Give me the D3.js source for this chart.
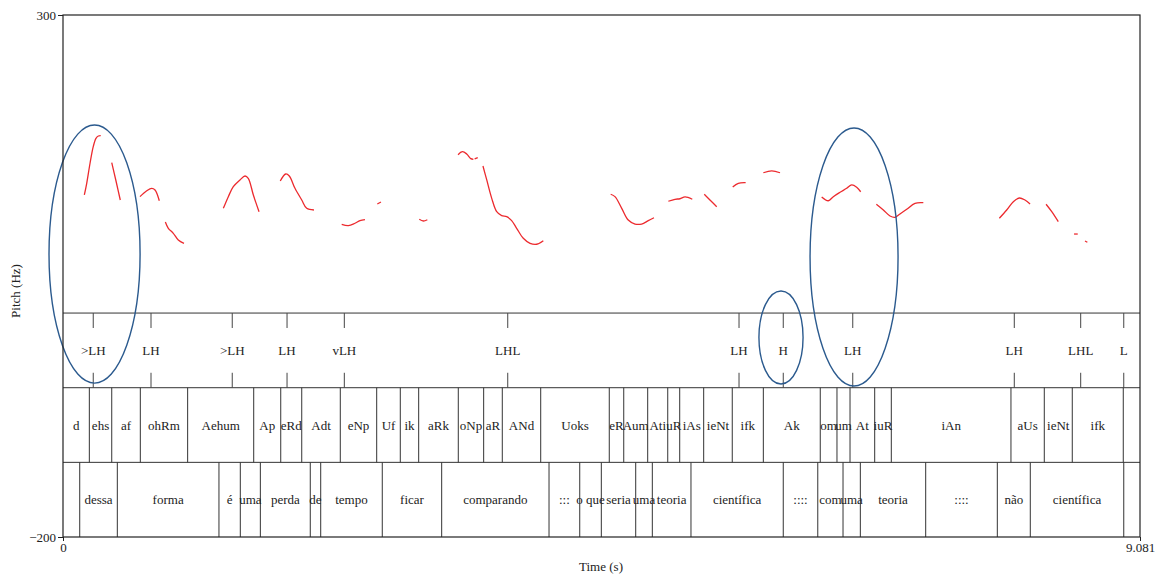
<!DOCTYPE html>
<html lang="en">
  <head>
    <meta charset="UTF-8" />
    <title>Pitch and tiers</title>
    <style>
      body { margin: 0; background: #fff; }
      svg text { font-family: "Liberation Serif", "Times New Roman", serif; font-size: 13px; fill: #222; }
    </style>
  </head>

  <body>
    <div id="chart"></div>

    <script src="https://cdn.jsdelivr.net/npm/d3@7"></script>
    <script>

      // time axis and y axis ends
      var tMin = 0, tMax = 9.081;
      var yMin = -200, yMax = 300;

      // pitch contour pieces, [time (s), Hz]
      var pitchSegments = [
        [[0.180,127.6],[0.200,138.8],[0.228,158.0],[0.255,173.9],[0.278,181.9],[0.298,184.1],[0.318,184.4]],
        [[0.411,158.5],[0.447,141.0],[0.483,122.8]],
        [[0.649,126.0],[0.706,131.7],[0.748,134.0],[0.776,132.4],[0.812,122.1]],
        [[0.863,101.7],[0.888,95.7],[0.930,90.9],[0.972,84.5],[1.020,81.3]],
        [[1.352,114.8],[1.394,126.0],[1.436,135.5],[1.492,142.0],[1.535,145.8],[1.562,143.6],[1.605,127.6],[1.653,111.6]],
        [[1.832,141.0],[1.878,147.7],[1.908,145.8],[1.956,134.0],[2.013,122.8],[2.055,114.8],[2.116,113.2]],
        [[2.350,99.5],[2.406,98.2],[2.462,100.5],[2.504,103.0],[2.546,103.9]],
        [[2.650,119.0],[2.681,120.9]],
        [[3.004,104.3],[3.038,102.7],[3.072,103.9]],
        [[3.331,166.2],[3.367,169.1],[3.404,166.9],[3.438,162.4],[3.460,161.8]],
        [[3.471,162.1],[3.497,163.3]],
        [[3.541,155.4],[3.573,142.0],[3.615,124.4],[3.657,111.6],[3.699,107.8],[3.741,106.8],[3.783,103.0],[3.825,95.7],[3.881,86.1],[3.938,81.3],[3.994,80.4],[4.050,83.8]],
        [[4.618,128.3],[4.654,126.0],[4.711,114.8],[4.766,103.6],[4.823,99.8],[4.879,99.8],[4.935,103.0],[4.983,105.8]],
        [[5.104,121.6],[5.160,123.5],[5.202,124.0],[5.245,125.7],[5.306,123.5]],
        [[5.407,128.3],[5.455,122.8],[5.512,116.4]],
        [[5.647,135.2],[5.694,138.8],[5.756,139.4]],
        [[5.905,148.9],[5.976,150.6],[6.046,148.9]],
        [[6.397,125.7],[6.453,122.1],[6.495,126.0],[6.552,130.2],[6.608,134.0],[6.650,137.2],[6.692,135.0],[6.726,130.7]],
        [[6.858,118.7],[6.917,113.2],[6.973,107.5],[7.015,106.2],[7.057,109.4],[7.114,113.9],[7.184,119.6],[7.254,120.2]],
        [[7.895,105.3],[7.957,113.2],[8.013,121.2],[8.063,124.7],[8.111,122.8],[8.154,119.0]],
        [[8.289,118.7],[8.337,111.6],[8.392,102.0]],
        [[8.525,90.2],[8.556,90.2]],
        [[8.617,83.5],[8.637,82.3]]
      ];

      // tone tier (points)
      var toneTimes = [0.255, 0.742, 1.427, 1.889, 2.372, 3.750, 5.700, 6.073, 6.659, 8.021, 8.581, 8.944];
      var toneLabels = [">LH", "LH", ">LH", "LH", "vLH", "LHL", "LH", "H", "LH", "LH", "LHL", "L"];

      // phone tier (intervals)
      var phoneBounds = [0.222, 0.411, 0.652, 1.051, 1.608, 1.836, 2.013, 2.338, 2.645, 2.844, 2.999, 3.333,
                         3.547, 3.704, 4.028, 4.606, 4.728, 4.930, 5.099, 5.200, 5.402, 5.643, 5.905, 6.385,
                         6.526, 6.636, 6.844, 6.984, 7.993, 8.274, 8.510, 8.940];
      var phoneLabels = ["d", "ehs", "af", "ohRm", "Aehum", "Ap", "eRd", "Adt", "eNp", "Uf", "ik", "aRk",
                         "oNp", "aR", "ANd", "Uoks", "eR", "Aum", "Ati", "uR", "iAs", "ieNt", "ifk", "Ak",
                         "om", "um", "At", "iuR", "iAn", "aUs", "ieNt", "ifk", ""];

      // word tier (intervals)
      var wordBounds = [0.141, 0.458, 1.315, 1.495, 1.664, 2.085, 2.173, 2.692, 3.193, 4.098, 4.357, 4.539,
                        4.829, 4.969, 5.295, 6.073, 6.364, 6.577, 6.723, 7.274, 7.878, 8.156, 8.944];
      var wordLabels = ["", "dessa", "forma", "é", "uma", "perda", "de", "tempo", "ficar", "comparando", ":::", "o que",
                        "seria", "uma", "teoria", "científica", "::::", "com", "uma", "teoria", "::::", "não", "científica", ""];

      // highlight ellipses: centre time, centre value, half width (s), half height (Hz)
      var ellipseT = [0.266, 6.054, 6.670];
      var ellipseV = [71.0, -8.9, 68.2];
      var ellipseRT = [0.384, 0.186, 0.371];
      var ellipseRV = [123.6, 44.5, 123.6];

      var w = 1159, h = 577;
      var margin = { top: 15, right: 19, bottom: 40, left: 63 };
      var plotH = h - margin.top - margin.bottom;
      var tierH = plotH * 0.143;
      var pitchBottom = h - margin.bottom - 3 * tierH;

      var svg = d3.select("#chart").append("svg")
        .attr("width", w)
        .attr("height", h);

      var xScale = d3.scaleLinear()
                     .domain([tMin, tMax])
                     .range([margin.left, w - margin.right]);
      var yScale = d3.scaleLinear()
                     .domain([yMin, yMax])
                     .range([h - margin.bottom, margin.top]);

      var x0 = xScale(tMin), x1 = xScale(tMax);

      // pitch contour
      var line = d3.line()
        .x(function(d) { return xScale(d[0]); })
        .y(function(d) { return yScale(d[1]); })
        .curve(d3.curveCatmullRom);

      svg.selectAll(".pitch")
         .data(pitchSegments)
         .enter()
         .append("path")
         .attr("class", "pitch")
         .attr("d", line)
         .attr("fill", "none")
         .attr("stroke", "#ec2a2e")
         .attr("stroke-width", 1.3);

      // tiers
      var tierTop = [pitchBottom, pitchBottom + tierH, pitchBottom + 2 * tierH];

      tierTop.forEach(function(t) {
        svg.append("line")
           .attr("x1", x0).attr("x2", x1)
           .attr("y1", t).attr("y2", t)
           .attr("stroke", "#333");
      });

      // tone points
      var tones = toneTimes.map(function(t, i) { return { t: t, label: toneLabels[i] }; });
      var tick = tierH * 0.2;
      svg.selectAll(".toneTop")
         .data(tones).enter().append("line")
         .attr("x1", function(d) { return xScale(d.t); })
         .attr("x2", function(d) { return xScale(d.t); })
         .attr("y1", tierTop[0]).attr("y2", tierTop[0] + tick)
         .attr("stroke", "#444");
      svg.selectAll(".toneBot")
         .data(tones).enter().append("line")
         .attr("x1", function(d) { return xScale(d.t); })
         .attr("x2", function(d) { return xScale(d.t); })
         .attr("y1", tierTop[1] - tick).attr("y2", tierTop[1])
         .attr("stroke", "#444");
      svg.selectAll(".toneText")
         .data(tones).enter().append("text")
         .attr("x", function(d) { return xScale(d.t); })
         .attr("y", tierTop[0] + tierH / 2)
         .attr("text-anchor", "middle")
         .attr("dominant-baseline", "central")
         .text(function(d) { return d.label; });

      function drawIntervals(bounds, labels, top) {
        var edges = [tMin].concat(bounds, [tMax]);
        svg.selectAll(null)
           .data(bounds).enter().append("line")
           .attr("x1", function(d) { return xScale(d); })
           .attr("x2", function(d) { return xScale(d); })
           .attr("y1", top).attr("y2", top + tierH)
           .attr("stroke", "#333");
        svg.selectAll(null)
           .data(labels).enter().append("text")
           .attr("x", function(d, i) { return xScale((edges[i] + edges[i + 1]) / 2); })
           .attr("y", top + tierH / 2)
           .attr("text-anchor", "middle")
           .attr("dominant-baseline", "central")
           .text(function(d) { return d; });
      }
      drawIntervals(phoneBounds, phoneLabels, tierTop[1]);
      drawIntervals(wordBounds, wordLabels, tierTop[2]);

      // ellipses
      svg.selectAll(".ring")
         .data(ellipseT).enter().append("ellipse")
         .attr("class", "ring")
         .attr("cx", function(d) { return xScale(d); })
         .attr("cy", function(d, i) { return yScale(ellipseV[i]); })
         .attr("rx", function(d, i) { return xScale(ellipseRT[i]) - xScale(0); })
         .attr("ry", function(d, i) { return yScale(0) - yScale(ellipseRV[i]); })
         .attr("fill", "none")
         .attr("stroke", "#2b5a8e")
         .attr("stroke-width", 1.4);

      // frame
      svg.append("rect")
         .attr("x", x0).attr("y", yScale(yMax))
         .attr("width", x1 - x0).attr("height", yScale(yMin) - yScale(yMax))
         .attr("fill", "none")
         .attr("stroke", "#222")
         .attr("stroke-width", 1.2);

      // axes
      var yAxis = d3.axisLeft(yScale).tickValues([yMin, yMax]).tickSize(5).tickPadding(2);
      svg.append("g")
         .attr("class", "y-axis")
         .attr("transform", "translate(" + x0 + ",0)")
         .call(yAxis);
      var xAxis = d3.axisBottom(xScale).tickValues([tMin, tMax]).tickSize(4).tickPadding(2)
        .tickFormat(function(d) { return d === 0 ? "0" : d3.format(".3f")(d); });
      svg.append("g")
         .attr("class", "x-axis")
         .attr("transform", "translate(0," + yScale(yMin) + ")")
         .call(xAxis);
      svg.selectAll(".domain").remove();
      svg.selectAll(".tick line").attr("stroke", "#222");
      svg.selectAll(".tick text")
         .style("font-family", "'Liberation Serif', serif")
         .style("font-size", "13px")
         .attr("fill", "#222");

      svg.append("text")
         .attr("text-anchor", "middle")
         .attr("x", (x0 + x1) / 2 - 0.5)
         .attr("y", 571)
         .text("Time (s)");
      svg.append("text")
         .attr("text-anchor", "middle")
         .attr("transform", "translate(20," + ((yScale(yMin) + yScale(yMax)) / 2 + 15) + ")rotate(-90)")
         .text("Pitch (Hz)");

    </script>
  </body>
</html>
